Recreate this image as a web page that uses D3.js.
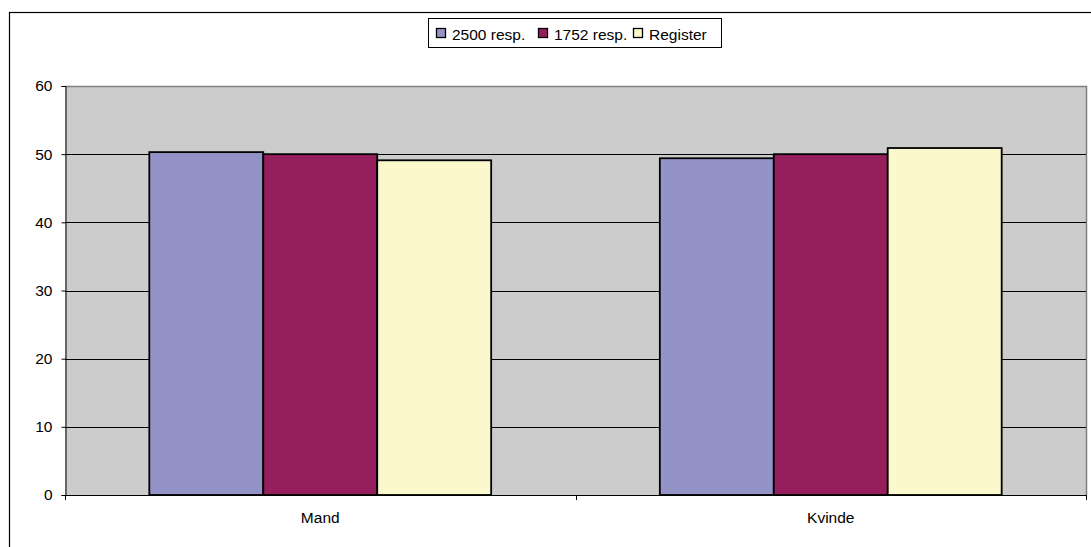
<!DOCTYPE html>
<html><head><meta charset="utf-8">
<script src="https://cdn.jsdelivr.net/npm/d3@7"></script>
<style>body{margin:0;background:#fff}svg{display:block;font-family:"Liberation Sans",Arial,sans-serif}</style>
</head><body><svg id="c" width="1091" height="547"></svg>
<script>
const categories = ["Mand", "Kvinde"];
const seriesNames = ["2500 resp.", "1752 resp.", "Register"];
const s2500 = [50.3, 49.4];
const s1752 = [50.0, 50.0];
const sRegister = [49.1, 50.9];
const yTicks = [0, 10, 20, 30, 40, 50, 60];
const colors = ["#9393c8", "#961e5c", "#fbf8cd"];

const seriesValues = [s2500, s1752, sRegister];
const FS = 15.5;
const svg = d3.select("#c");
// outer chart border
svg.append("rect").attr("x", 9.5).attr("y", 12.5).attr("width", 1100).attr("height", 560)
  .attr("fill", "#fff").attr("stroke", "#000").attr("stroke-width", 1.2);

const L = 65, R = 1086, T = 86, B = 495;
const x = d3.scaleBand().domain(categories).range([L, R]);
const xs = d3.scaleBand().domain(seriesNames).range([0, x.bandwidth()]).paddingOuter(0.74).paddingInner(0);
const y = d3.scaleLinear().domain([0, 60]).range([B, T]);

// plot background
svg.append("rect").attr("x", L).attr("y", T).attr("width", R - L).attr("height", B - T)
  .attr("fill", "#cccccc");
svg.append("path").attr("d", `M${L},${T + 0.5}H${R + 0.5}V${B}`).attr("fill", "none").attr("stroke", "#808080").attr("stroke-width", 1.5);

// gridlines
svg.append("g").selectAll("line").data(yTicks.filter(d => d > 0 && d < 60)).join("line")
  .attr("x1", L).attr("x2", R).attr("y1", d => Math.round(y(d)) + 0.5).attr("y2", d => Math.round(y(d)) + 0.5)
  .attr("stroke", "#000").attr("stroke-width", 1);

// bars
const g = svg.append("g");
categories.forEach((c, i) => {
  seriesNames.forEach((s, j) => {
    const v = seriesValues[j][i];
    g.append("rect")
      .attr("x", x(c) + xs(s)).attr("y", y(v))
      .attr("width", xs.bandwidth()).attr("height", B - y(v))
      .attr("fill", colors[j]).attr("stroke", "#000").attr("stroke-width", 1.8);
  });
});

// y axis
const yAxis = d3.axisLeft(y).tickValues(yTicks).tickSize(4).tickPadding(9);
const ya = svg.append("g").attr("transform", `translate(${L + 0.5},0)`).call(yAxis);
ya.select(".domain").attr("stroke", "#000");
ya.selectAll("text").attr("font-size", FS).attr("fill", "#000").attr("font-family", "Liberation Sans, Arial, sans-serif");

// x axis
const xa = svg.append("g").attr("transform", `translate(0,${B + 0.5})`)
  .call(d3.axisBottom(x).tickSize(0).tickPadding(16));
xa.select(".domain").attr("stroke", "#000").attr("d", `M${L},0H${R}`);
xa.selectAll("text").attr("font-size", FS).attr("fill", "#000").attr("font-family", "Liberation Sans, Arial, sans-serif");
// category separator ticks
const sep = [L, L + x.step(), R];
svg.append("g").selectAll("line").data(sep).join("line")
  .attr("x1", d => Math.round(d) + 0.5).attr("x2", d => Math.round(d) + 0.5)
  .attr("y1", B).attr("y2", B + 5).attr("stroke", "#000");

// legend
const lg = svg.append("g");
lg.append("rect").attr("x", 428.5).attr("y", 18.5).attr("width", 293).attr("height", 29)
  .attr("fill", "#fff").attr("stroke", "#000");
const lx = [436, 538, 633];
seriesNames.forEach((s, j) => {
  lg.append("rect").attr("x", lx[j] + 0.5).attr("y", 28.5).attr("width", 9).attr("height", 9)
    .attr("fill", colors[j]).attr("stroke", "#000").attr("stroke-width", 1.3);
  lg.append("text").attr("x", lx[j] + 16).attr("y", 39.5).attr("font-size", FS).text(s);
});
</script></body></html>
